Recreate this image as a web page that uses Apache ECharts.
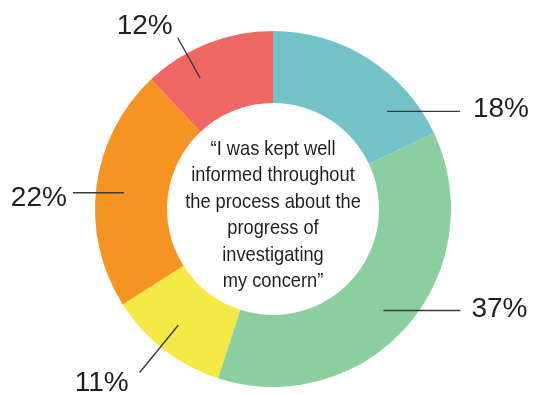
<!DOCTYPE html>
<html>
<head>
<meta charset="utf-8">
<script src="https://cdn.jsdelivr.net/npm/echarts@6/dist/echarts.min.js"></script>
<style>
  html, body { margin: 0; padding: 0; background: #ffffff; }
  #chart { width: 535px; height: 394px; }
</style>
</head>
<body>
<div id="chart"></div>
<script>
// Survey responses, clockwise from 12 o'clock
const categories = ['Strongly agree', 'Agree', 'Neither agree nor disagree', 'Disagree', 'Strongly disagree'];
const values = [18, 37, 11, 22, 12];
const colors = ['#72c2c8', '#8bcea0', '#f7e945', '#f59422', '#ef6762'];
const centreText = '\u201cI was kept well\ninformed throughout\nthe process about the\nprogress of\ninvestigating\nmy concern\u201d';

// Ring geometry
const CX = 273, CY = 209, R_IN = 106, R_OUT = 178, LEADER_R = 150;

// Leader line style per slice: angular nudge, direction and label offset
const leaders = [
  { turn: 17,   kind: 'h', len: 73,  align: 'left',  dx: 13,  dy: -2 },
  { turn: 1.2,  kind: 'h', len: 77,  align: 'left',  dx: 11,  dy: -1 },
  { turn: 1.4,  kind: 'r', to: 211,  align: 'right', dx: -11, dy: 11 },
  { turn: -1,   kind: 'h', len: -51, align: 'right', dx: -6,  dy: 5 },
  { turn: -7.5, kind: 'r', to: 196,  align: 'right', dx: -5,  dy: -11 }
];

const total = values.reduce((a, b) => a + b, 0);
const midAngles = [];
values.reduce((acc, v) => { midAngles.push((acc + v / 2) / total * 360); return acc + v; }, 0);

function polar(deg, r) {
  const a = deg * Math.PI / 180;
  return [CX + r * Math.sin(a), CY - r * Math.cos(a)];
}

const pieData = categories.map((name, i) => ({ name, value: values[i], itemStyle: { color: colors[i] } }));

const chart = echarts.init(document.getElementById('chart'), null, { renderer: 'canvas' });

chart.setOption({
  animation: false,
  backgroundColor: '#ffffff',
  series: [
    // coloured ring
    {
      type: 'pie',
      z: 1,
      center: [CX, CY],
      radius: [R_IN, R_OUT],
      startAngle: 90,
      clockwise: true,
      silent: true,
      label: { show: false },
      labelLine: { show: false },
      data: pieData
    },
    // same slices, transparent, carrying the value labels and leader lines above the ring
    {
      type: 'pie',
      z: 3,
      center: [CX, CY],
      radius: [R_IN, R_OUT],
      startAngle: 90,
      clockwise: true,
      silent: true,
      avoidLabelOverlap: false,
      itemStyle: { color: 'rgba(0,0,0,0)' },
      data: categories.map((name, i) => ({ name, value: values[i] })),
      label: {
        show: true,
        position: 'outside',
        formatter: '{c}%',
        fontFamily: 'Liberation Sans, Arial, sans-serif',
        fontSize: 28,
        color: '#231f20'
      },
      labelLine: {
        show: true,
        showAbove: true,
        smooth: false,
        lineStyle: { color: '#3a3a3a', width: 1.4 }
      },
      labelLayout: function (params) {
        const i = params.dataIndex;
        const cfg = leaders[i];
        const ang = midAngles[i] + cfg.turn;
        const start = polar(ang, LEADER_R);
        const end = cfg.kind === 'h' ? [start[0] + cfg.len, start[1]] : polar(ang, cfg.to);
        return {
          x: end[0] + cfg.dx,
          y: end[1] + cfg.dy,
          align: cfg.align,
          verticalAlign: 'middle',
          labelLinePoints: [start, end]
        };
      }
    }
  ],
  graphic: [{
    type: 'text',
    x: CX,
    y: CY + 6,
    scaleX: 0.87,
    silent: true,
    style: {
      text: centreText,
      align: 'center',
      verticalAlign: 'middle',
      fontFamily: 'Liberation Sans, Arial, sans-serif',
      fontSize: 21,
      lineHeight: 26.5,
      fill: '#231f20'
    }
  }]
});
</script>
</body>
</html>
